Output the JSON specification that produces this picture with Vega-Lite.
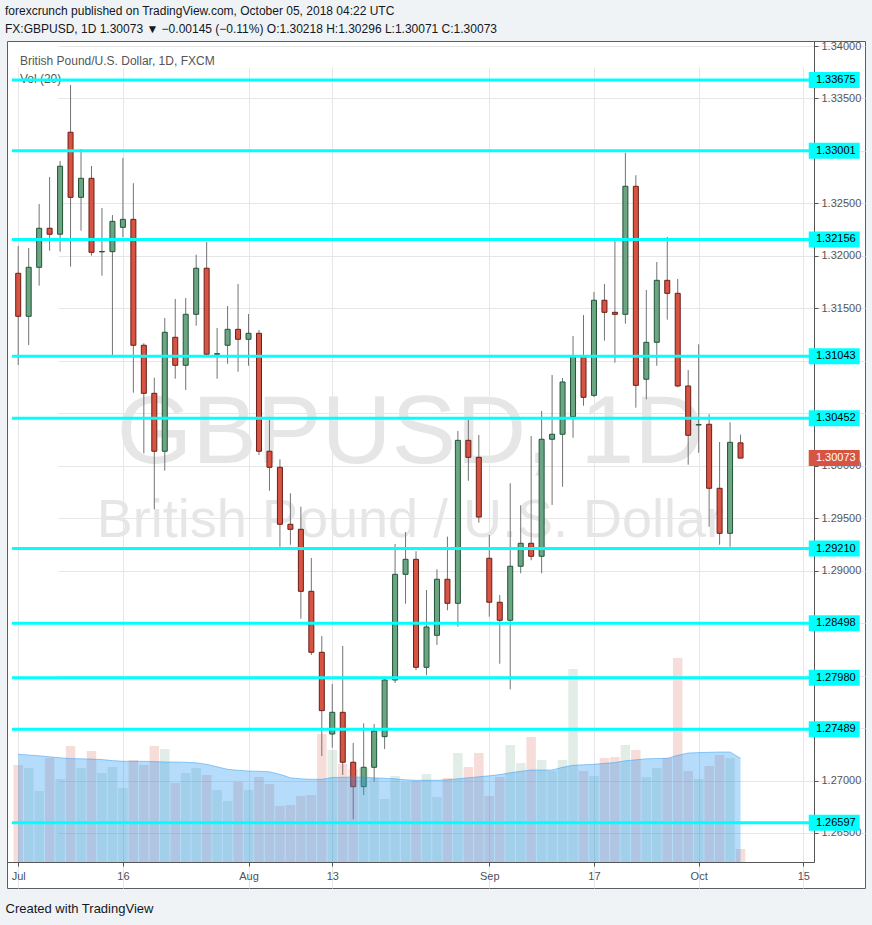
{
"$schema": "https://vega.github.io/schema/vega-lite/v6.json",
"width": 858,
"height": 847,
"autosize": {"type": "none"},
"padding": {"left": 7, "top": 41, "right": 7, "bottom": 37},
"background": "#f0f3f6",
"config": {
  "view": {"fill": "white", "stroke": "#5a5d66", "strokeWidth": 1},
  "font": "Liberation Sans",
  "text": {"font": "Liberation Sans"}
},
"title": {
  "text": "forexcrunch published on TradingView.com, October 05, 2018 04:22 UTC",
  "subtitle": "FX:GBPUSD, 1D  1.30073 ▼ −0.00145 (−0.11%)  O:1.30218  H:1.30296  L:1.30071  C:1.30073",
  "anchor": "start",
  "frame": "group",
  "dx": -2,
  "offset": 4,
  "font": "Liberation Sans",
  "fontSize": 12,
  "fontWeight": "normal",
  "color": "#131722",
  "subtitleFont": "Liberation Sans",
  "subtitleFontSize": 12,
  "subtitleFontWeight": "normal",
  "subtitleColor": "#131722",
  "subtitlePadding": 6
},
"datasets": {
  "ohlc": [
    {"i":0,"date":"2018-07-02","o":1.31834,"h":1.32094,"l":1.30960,"c":1.31424,"v":97,"ma":107.7},
    {"i":1,"date":"2018-07-03","o":1.31424,"h":1.32075,"l":1.31150,"c":1.31891,"v":94,"ma":107.0},
    {"i":2,"date":"2018-07-04","o":1.31891,"h":1.32494,"l":1.31716,"c":1.32263,"v":71,"ma":106.2},
    {"i":3,"date":"2018-07-05","o":1.32263,"h":1.32752,"l":1.32049,"c":1.32206,"v":104,"ma":105.2},
    {"i":4,"date":"2018-07-06","o":1.32206,"h":1.32904,"l":1.32040,"c":1.32854,"v":83,"ma":104.2},
    {"i":5,"date":"2018-07-09","o":1.33178,"h":1.33628,"l":1.31897,"c":1.32558,"v":116,"ma":103.4},
    {"i":6,"date":"2018-07-10","o":1.32558,"h":1.33018,"l":1.32240,"c":1.32739,"v":94,"ma":103.2},
    {"i":7,"date":"2018-07-11","o":1.32739,"h":1.32856,"l":1.32002,"c":1.32034,"v":111,"ma":102.9},
    {"i":8,"date":"2018-07-12","o":1.32038,"h":1.32456,"l":1.31811,"c":1.32042,"v":89,"ma":102.4},
    {"i":9,"date":"2018-07-13","o":1.32040,"h":1.32389,"l":1.31055,"c":1.32329,"v":95,"ma":101.4},
    {"i":10,"date":"2018-07-16","o":1.32272,"h":1.32933,"l":1.32177,"c":1.32348,"v":74,"ma":100.7},
    {"i":11,"date":"2018-07-17","o":1.32348,"h":1.32692,"l":1.30696,"c":1.31148,"v":102,"ma":100.7},
    {"i":12,"date":"2018-07-18","o":1.31148,"h":1.31167,"l":1.30118,"c":1.30690,"v":97,"ma":100.7},
    {"i":13,"date":"2018-07-19","o":1.30690,"h":1.30839,"l":1.29585,"c":1.30138,"v":116,"ma":100.4},
    {"i":14,"date":"2018-07-20","o":1.30138,"h":1.31408,"l":1.29953,"c":1.31272,"v":113,"ma":100.0},
    {"i":15,"date":"2018-07-23","o":1.31224,"h":1.31589,"l":1.30829,"c":1.30957,"v":79,"ma":100.0},
    {"i":16,"date":"2018-07-24","o":1.30957,"h":1.31598,"l":1.30722,"c":1.31443,"v":89,"ma":99.7},
    {"i":17,"date":"2018-07-25","o":1.31443,"h":1.32011,"l":1.31334,"c":1.31882,"v":94,"ma":99.2},
    {"i":18,"date":"2018-07-26","o":1.31882,"h":1.32132,"l":1.31050,"c":1.31062,"v":87,"ma":97.7},
    {"i":19,"date":"2018-07-27","o":1.31062,"h":1.31313,"l":1.30829,"c":1.31068,"v":72,"ma":95.2},
    {"i":20,"date":"2018-07-30","o":1.31148,"h":1.31522,"l":1.30972,"c":1.31300,"v":61,"ma":92.7},
    {"i":21,"date":"2018-07-31","o":1.31300,"h":1.31732,"l":1.30896,"c":1.31205,"v":80,"ma":91.7},
    {"i":22,"date":"2018-08-01","o":1.31205,"h":1.31446,"l":1.30953,"c":1.31262,"v":72,"ma":91.0},
    {"i":23,"date":"2018-08-02","o":1.31262,"h":1.31294,"l":1.30102,"c":1.30138,"v":85,"ma":90.7},
    {"i":24,"date":"2018-08-03","o":1.30138,"h":1.30436,"l":1.29762,"c":1.29985,"v":78,"ma":90.2},
    {"i":25,"date":"2018-08-06","o":1.29985,"h":1.30061,"l":1.29228,"c":1.29442,"v":56,"ma":87.7},
    {"i":26,"date":"2018-08-07","o":1.29442,"h":1.29737,"l":1.29247,"c":1.29394,"v":57,"ma":84.2},
    {"i":27,"date":"2018-08-08","o":1.29394,"h":1.29610,"l":1.28542,"c":1.28803,"v":66,"ma":83.2},
    {"i":28,"date":"2018-08-09","o":1.28803,"h":1.29121,"l":1.28196,"c":1.28222,"v":67,"ma":82.7},
    {"i":29,"date":"2018-08-10","o":1.28222,"h":1.28377,"l":1.27234,"c":1.27666,"v":128,"ma":82.7},
    {"i":30,"date":"2018-08-13","o":1.27443,"h":1.27920,"l":1.27313,"c":1.27650,"v":112,"ma":84.5},
    {"i":31,"date":"2018-08-14","o":1.27650,"h":1.28282,"l":1.27053,"c":1.27174,"v":98,"ma":84.7},
    {"i":32,"date":"2018-08-15","o":1.27174,"h":1.27358,"l":1.26630,"c":1.26941,"v":93,"ma":85.0},
    {"i":33,"date":"2018-08-16","o":1.26941,"h":1.27545,"l":1.26862,"c":1.27126,"v":94,"ma":84.7},
    {"i":34,"date":"2018-08-17","o":1.27126,"h":1.27539,"l":1.26989,"c":1.27472,"v":84,"ma":84.2},
    {"i":35,"date":"2018-08-20","o":1.27418,"h":1.27977,"l":1.27300,"c":1.27958,"v":63,"ma":83.7},
    {"i":36,"date":"2018-08-21","o":1.27958,"h":1.29254,"l":1.27930,"c":1.28965,"v":86,"ma":83.2},
    {"i":37,"date":"2018-08-22","o":1.28965,"h":1.29368,"l":1.28685,"c":1.29108,"v":80,"ma":82.2},
    {"i":38,"date":"2018-08-23","o":1.29108,"h":1.29185,"l":1.28053,"c":1.28079,"v":81,"ma":81.7},
    {"i":39,"date":"2018-08-24","o":1.28079,"h":1.28816,"l":1.28003,"c":1.28463,"v":88,"ma":81.7},
    {"i":40,"date":"2018-08-27","o":1.28384,"h":1.29013,"l":1.28292,"c":1.28918,"v":65,"ma":81.7},
    {"i":41,"date":"2018-08-28","o":1.28918,"h":1.29324,"l":1.28622,"c":1.28689,"v":84,"ma":82.2},
    {"i":42,"date":"2018-08-29","o":1.28689,"h":1.30331,"l":1.28466,"c":1.30242,"v":109,"ma":83.2},
    {"i":43,"date":"2018-08-30","o":1.30242,"h":1.30436,"l":1.29857,"c":1.30080,"v":95,"ma":84.2},
    {"i":44,"date":"2018-08-31","o":1.30080,"h":1.30293,"l":1.29457,"c":1.29511,"v":109,"ma":85.2},
    {"i":45,"date":"2018-09-03","o":1.29118,"h":1.29340,"l":1.28561,"c":1.28699,"v":66,"ma":86.2},
    {"i":46,"date":"2018-09-04","o":1.28699,"h":1.28768,"l":1.28113,"c":1.28527,"v":85,"ma":87.4},
    {"i":47,"date":"2018-09-05","o":1.28527,"h":1.29833,"l":1.27869,"c":1.29042,"v":117,"ma":89.2},
    {"i":48,"date":"2018-09-06","o":1.29042,"h":1.29623,"l":1.28975,"c":1.29261,"v":99,"ma":90.7},
    {"i":49,"date":"2018-09-07","o":1.29261,"h":1.30283,"l":1.29099,"c":1.29137,"v":125,"ma":92.0},
    {"i":50,"date":"2018-09-10","o":1.29137,"h":1.30522,"l":1.28975,"c":1.30252,"v":102,"ma":92.0},
    {"i":51,"date":"2018-09-11","o":1.30252,"h":1.30865,"l":1.29626,"c":1.30300,"v":91,"ma":92.0},
    {"i":52,"date":"2018-09-12","o":1.30300,"h":1.30836,"l":1.29800,"c":1.30798,"v":102,"ma":94.7},
    {"i":53,"date":"2018-09-13","o":1.30467,"h":1.31236,"l":1.30267,"c":1.31039,"v":193,"ma":96.7},
    {"i":54,"date":"2018-09-14","o":1.31039,"h":1.31436,"l":1.30572,"c":1.30652,"v":91,"ma":97.2},
    {"i":55,"date":"2018-09-17","o":1.30671,"h":1.31656,"l":1.30655,"c":1.31577,"v":86,"ma":97.7},
    {"i":56,"date":"2018-09-18","o":1.31577,"h":1.31732,"l":1.31192,"c":1.31462,"v":104,"ma":98.7},
    {"i":57,"date":"2018-09-19","o":1.31462,"h":1.32142,"l":1.30982,"c":1.31443,"v":105,"ma":99.4},
    {"i":58,"date":"2018-09-20","o":1.31443,"h":1.32983,"l":1.31354,"c":1.32663,"v":117,"ma":101.2},
    {"i":59,"date":"2018-09-21","o":1.32663,"h":1.32768,"l":1.30553,"c":1.30766,"v":112,"ma":102.2},
    {"i":60,"date":"2018-09-24","o":1.30824,"h":1.31675,"l":1.30633,"c":1.31176,"v":85,"ma":103.2},
    {"i":61,"date":"2018-09-25","o":1.31176,"h":1.31942,"l":1.30953,"c":1.31767,"v":94,"ma":103.5},
    {"i":62,"date":"2018-09-26","o":1.31767,"h":1.32180,"l":1.31392,"c":1.31643,"v":104,"ma":103.7},
    {"i":63,"date":"2018-09-27","o":1.31643,"h":1.31780,"l":1.30747,"c":1.30760,"v":204,"ma":106.7},
    {"i":64,"date":"2018-09-28","o":1.30760,"h":1.30912,"l":1.30010,"c":1.30290,"v":91,"ma":109.0},
    {"i":65,"date":"2018-10-01","o":1.30388,"h":1.31157,"l":1.30124,"c":1.30392,"v":83,"ma":109.4},
    {"i":66,"date":"2018-10-02","o":1.30395,"h":1.30490,"l":1.29419,"c":1.29785,"v":96,"ma":109.7},
    {"i":67,"date":"2018-10-03","o":1.29785,"h":1.30226,"l":1.29247,"c":1.29356,"v":107,"ma":110.0},
    {"i":68,"date":"2018-10-04","o":1.29356,"h":1.30414,"l":1.29228,"c":1.30223,"v":104,"ma":110.0},
    {"i":69,"date":"2018-10-05","o":1.30218,"h":1.30296,"l":1.30071,"c":1.30073,"v":13,"ma":103.7}
  ],
  "levels": [
    {"level":1.33675},{"level":1.33001},{"level":1.32156},{"level":1.31043},{"level":1.30452},
    {"level":1.29210},{"level":1.28498},{"level":1.27980},{"level":1.27489},{"level":1.26597}
  ],
  "last": [{"price":1.30073}],
  "watermark": [{"t":"GBPUSD, 1D"}],
  "watermark2": [{"t":"British Pound / U.S. Dollar"}],
  "legend1": [{"t":"British Pound/U.S. Dollar, 1D, FXCM"}],
  "legend2": [{"t":"Vol (20)"}]
},
"layer": [
  {
    "data": {"name": "watermark"},
    "mark": {"type": "text", "fontSize": 97, "color": "#e6e6e6", "align": "center", "baseline": "alphabetic"},
    "encoding": {
      "x": {"datum": 37.47, "type": "quantitative", "scale": {"domain": [-0.594, 75.54], "range": [0, 807], "nice": false, "zero": false}, "axis": null},
      "y": {"datum": 1.30026, "type": "quantitative", "scale": {"domain": [1.262234, 1.340477], "range": [821, 0], "nice": false, "zero": false}, "axis": null},
      "text": {"field": "t"}
    }
  },
  {
    "data": {"name": "watermark2"},
    "mark": {"type": "text", "fontSize": 54, "color": "#e6e6e6", "align": "center", "baseline": "alphabetic"},
    "encoding": {
      "x": {"datum": 37.47, "type": "quantitative", "scale": {"domain": [-0.594, 75.54], "range": [0, 807], "nice": false, "zero": false}, "axis": null},
      "y": {"datum": 1.29321, "type": "quantitative", "scale": {"domain": [1.262234, 1.340477], "range": [821, 0], "nice": false, "zero": false}, "axis": null},
      "text": {"field": "t"}
    }
  },
  {
    "data": {"name": "legend1"},
    "mark": {"type": "text", "fontSize": 12, "color": "#555555", "align": "left", "baseline": "alphabetic"},
    "encoding": {
      "x": {"datum": 0.16, "type": "quantitative", "scale": {"domain": [-0.594, 75.54], "range": [0, 807], "nice": false, "zero": false}, "axis": null},
      "y": {"datum": 1.33819, "type": "quantitative", "scale": {"domain": [1.262234, 1.340477], "range": [821, 0], "nice": false, "zero": false}, "axis": null},
      "text": {"field": "t"}
    }
  },
  {
    "data": {"name": "legend2"},
    "mark": {"type": "text", "fontSize": 12, "color": "#555555", "align": "left", "baseline": "alphabetic"},
    "encoding": {
      "x": {"datum": 0.16, "type": "quantitative", "scale": {"domain": [-0.594, 75.54], "range": [0, 807], "nice": false, "zero": false}, "axis": null},
      "y": {"datum": 1.33647, "type": "quantitative", "scale": {"domain": [1.262234, 1.340477], "range": [821, 0], "nice": false, "zero": false}, "axis": null},
      "text": {"field": "t"}
    }
  },
  {
    "data": {"name": "ohlc"},
    "mark": {"type": "rule", "color": "#737375", "strokeWidth": 1},
    "encoding": {
      "x": {"field": "i", "type": "quantitative", "scale": {"domain": [-0.594, 75.54], "range": [0, 807], "nice": false, "zero": false},
            "axis": {"orient": "bottom", "offset": -26, "values": [0,10,22,30,45,55,65,75],
                     "labelExpr": "datum.value == 0 ? 'Jul' : datum.value == 10 ? '16' : datum.value == 22 ? 'Aug' : datum.value == 30 ? '13' : datum.value == 45 ? 'Sep' : datum.value == 55 ? '17' : datum.value == 65 ? 'Oct' : '15'",
                     "grid": true, "gridColor": "#e6e6e6", "domainColor": "#555555", "tickColor": "#555555", "tickSize": 4,
                     "labelFont": "Liberation Sans", "labelFontSize": 11, "labelColor": "#4c525e", "labelPadding": 4,
                     "labelFlush": false, "labelOverlap": false,
                     "title": "Created with TradingView", "titleAnchor": "start", "titleAlign": "left", "titleX": -2, "titleY": 46,
                     "titleBaseline": "middle", "titleFont": "Liberation Sans", "titleFontSize": 13, "titleFontWeight": "normal", "titleColor": "#131722"}},
      "y": {"field": "l", "type": "quantitative", "scale": {"domain": [1.262234, 1.340477], "range": [821, 0], "nice": false, "zero": false},
            "axis": {"orient": "right", "offset": -51,
                     "values": [1.265,1.27,1.275,1.28,1.285,1.29,1.295,1.3,1.305,1.31,1.315,1.32,1.325,1.33,1.335,1.34],
                     "format": ".5f",
                     "labelExpr": "indexof(['1.33000','1.31000','1.30500','1.28500','1.28000','1.27500'], datum.label) >= 0 ? '' : datum.label",
                     "grid": true, "gridColor": "#e6e6e6", "domainColor": "#555555", "tickColor": "#555555", "tickSize": 4,
                     "labelFont": "Liberation Sans", "labelFontSize": 11, "labelColor": "#555555", "labelPadding": 3,
                     "labelFlush": false, "labelOverlap": false, "title": null}},
      "y2": {"field": "h"}
    }
  },
  {
    "data": {"name": "ohlc"},
    "mark": {"type": "bar", "width": 5, "strokeWidth": 1},
    "encoding": {
      "x": {"field": "i", "type": "quantitative", "scale": {"domain": [-0.594, 75.54], "range": [0, 807], "nice": false, "zero": false}, "axis": null},
      "y": {"field": "o", "type": "quantitative", "scale": {"domain": [1.262234, 1.340477], "range": [821, 0], "nice": false, "zero": false}, "axis": null},
      "y2": {"field": "c"},
      "fill": {"condition": {"test": "datum.c >= datum.o", "value": "#6ba583"}, "value": "#d75442"},
      "stroke": {"condition": {"test": "datum.c >= datum.o", "value": "#225437"}, "value": "#6b1d18"}
    }
  },
  {
    "data": {"name": "ohlc"},
    "mark": {"type": "bar", "width": 9.5},
    "encoding": {
      "x": {"field": "i", "type": "quantitative", "scale": {"domain": [-0.594, 75.54], "range": [0, 807], "nice": false, "zero": false}, "axis": null},
      "y": {"field": "v", "type": "quantitative", "scale": {"domain": [0, 821], "range": [821, 0], "nice": false, "zero": false}, "axis": null},
      "y2": {"datum": 0},
      "fill": {"condition": {"test": "datum.c >= datum.o", "value": "#6ba583"}, "value": "#d75442"},
      "fillOpacity": {"value": 0.2}
    }
  },
  {
    "data": {"name": "ohlc"},
    "mark": {"type": "area", "color": "#2196f3", "opacity": 0.33},
    "encoding": {
      "x": {"field": "i", "type": "quantitative", "scale": {"domain": [-0.594, 75.54], "range": [0, 807], "nice": false, "zero": false}, "axis": null},
      "y": {"field": "ma", "type": "quantitative", "scale": {"domain": [0, 821], "range": [821, 0], "nice": false, "zero": false}, "axis": null},
      "y2": {"datum": 0}
    }
  },
  {
    "data": {"name": "ohlc"},
    "mark": {"type": "line", "color": "#2196f3", "strokeWidth": 1, "opacity": 0.45},
    "encoding": {
      "x": {"field": "i", "type": "quantitative", "scale": {"domain": [-0.594, 75.54], "range": [0, 807], "nice": false, "zero": false}, "axis": null},
      "y": {"field": "ma", "type": "quantitative", "scale": {"domain": [0, 821], "range": [821, 0], "nice": false, "zero": false}, "axis": null}
    }
  },
  {
    "data": {"name": "levels"},
    "mark": {"type": "rule", "color": "#00ffff", "strokeWidth": 3},
    "encoding": {
      "x": {"datum": -0.594, "type": "quantitative", "scale": {"domain": [-0.594, 75.54], "range": [0, 807], "nice": false, "zero": false}, "axis": null},
      "x2": {"datum": 75.54},
      "y": {"field": "level", "type": "quantitative", "scale": {"domain": [1.262234, 1.340477], "range": [821, 0], "nice": false, "zero": false}, "axis": null}
    }
  },
  {
    "data": {"name": "levels"},
    "mark": {"type": "tick", "orient": "horizontal", "size": 51, "thickness": 16, "color": "#00ffff", "opacity": 1},
    "encoding": {
      "x": {"datum": 77.95, "type": "quantitative", "scale": {"domain": [-0.594, 75.54], "range": [0, 807], "nice": false, "zero": false}, "axis": null},
      "y": {"field": "level", "type": "quantitative", "scale": {"domain": [1.262234, 1.340477], "range": [821, 0], "nice": false, "zero": false}, "axis": null}
    }
  },
  {
    "data": {"name": "levels"},
    "mark": {"type": "text", "fontSize": 11, "color": "#000000", "align": "left", "baseline": "middle"},
    "encoding": {
      "x": {"datum": 76.2, "type": "quantitative", "scale": {"domain": [-0.594, 75.54], "range": [0, 807], "nice": false, "zero": false}, "axis": null},
      "y": {"field": "level", "type": "quantitative", "scale": {"domain": [1.262234, 1.340477], "range": [821, 0], "nice": false, "zero": false}, "axis": null},
      "text": {"field": "level", "type": "quantitative", "format": ".5f"}
    }
  },
  {
    "data": {"name": "last"},
    "mark": {"type": "tick", "orient": "horizontal", "size": 51, "thickness": 16, "color": "#d75442", "opacity": 1},
    "encoding": {
      "x": {"datum": 77.95, "type": "quantitative", "scale": {"domain": [-0.594, 75.54], "range": [0, 807], "nice": false, "zero": false}, "axis": null},
      "y": {"field": "price", "type": "quantitative", "scale": {"domain": [1.262234, 1.340477], "range": [821, 0], "nice": false, "zero": false}, "axis": null}
    }
  },
  {
    "data": {"name": "last"},
    "mark": {"type": "text", "fontSize": 11, "color": "#ffffff", "align": "left", "baseline": "middle"},
    "encoding": {
      "x": {"datum": 76.2, "type": "quantitative", "scale": {"domain": [-0.594, 75.54], "range": [0, 807], "nice": false, "zero": false}, "axis": null},
      "y": {"field": "price", "type": "quantitative", "scale": {"domain": [1.262234, 1.340477], "range": [821, 0], "nice": false, "zero": false}, "axis": null},
      "text": {"field": "price", "type": "quantitative", "format": ".5f"}
    }
  }
],
"resolve": {"scale": {"y": "independent"}, "axis": {"x": "independent"}}
}
